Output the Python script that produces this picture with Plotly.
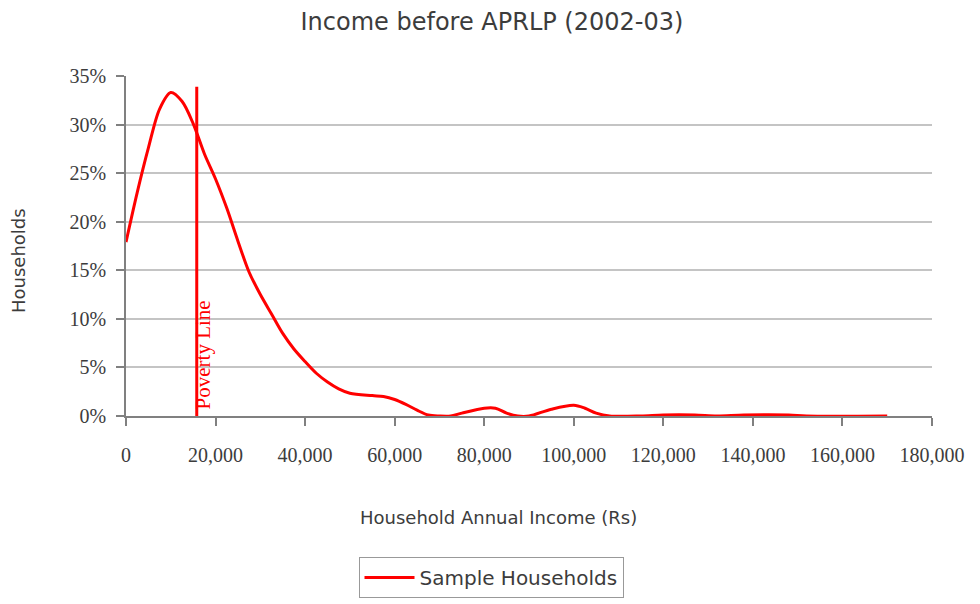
import plotly.graph_objects as go

# Household annual income (Rs) and share of households (%)
income = [0, 2500, 5000, 7500, 10000, 12500, 15000, 17500, 20000, 22500, 25000,
          27500, 30000, 32500, 35000, 37500, 40000, 42500, 45000, 47500, 50000,
          55000, 57500, 60000, 62500, 65000, 67500, 70000, 72500, 75000, 80000,
          82500, 85000, 87500, 90000, 95000, 100000, 102500, 105000, 108000,
          115000, 120000, 127000, 132000, 138000, 148000, 152000, 170000]
households = [17.9, 23.0, 27.6, 31.6, 33.3, 32.4, 30.1, 27.0, 24.4, 21.4, 18.0,
              14.8, 12.5, 10.5, 8.5, 6.9, 5.6, 4.4, 3.5, 2.8, 2.35,
              2.1, 2.0, 1.7, 1.2, 0.6, 0.1, 0.0, 0.0, 0.3, 0.8,
              0.8, 0.3, 0.0, 0.0, 0.7, 1.1, 0.8, 0.3, 0.0,
              0.0, 0.1, 0.1, 0.0, 0.1, 0.1, 0.0, 0.0]

poverty_line = 15800
poverty_line_span = [-1.0, 33.9]

x_ticks = [0, 20000, 40000, 60000, 80000, 100000, 120000, 140000, 160000, 180000]
x_tick_labels = ["0", "20,000", "40,000", "60,000", "80,000", "100,000",
                 "120,000", "140,000", "160,000", "180,000"]
y_ticks = [0, 5, 10, 15, 20, 25, 30, 35]
y_tick_labels = ["0%", "5%", "10%", "15%", "20%", "25%", "30%", "35%"]

sans = "DejaVu Sans"
serif = "Liberation Serif"
text_col = "#3c3c3c"

fig = go.Figure()
fig.add_trace(go.Scatter(
    x=income, y=households, mode="lines", name="Sample Households",
    line=dict(color="#ff0000", width=3, shape="spline", smoothing=0.9),
    hoverinfo="x+y",
))

fig.add_shape(type="line", xref="x", yref="y",
              x0=poverty_line, x1=poverty_line,
              y0=poverty_line_span[0], y1=poverty_line_span[1],
              line=dict(color="#ff0000", width=3), layer="above")
fig.add_annotation(x=poverty_line, y=0.5, xref="x", yref="y",
                   text="Poverty Line", textangle=-90, showarrow=False,
                   xanchor="left", yanchor="bottom", xshift=-8,
                   font=dict(family=serif, size=21, color="#ff0000"))

fig.add_annotation(text="Household Annual Income (Rs)", xref="paper", yref="paper",
                   x=(498 - 126) / 806, y=(416 - 517) / 340, showarrow=False,
                   xanchor="center", yanchor="middle",
                   font=dict(family=sans, size=18, color=text_col))
fig.add_annotation(text="Households", xref="paper", yref="paper",
                   x=(18 - 126) / 806, y=(416 - 261) / 340, showarrow=False,
                   textangle=-90, xanchor="center", yanchor="middle",
                   font=dict(family=sans, size=18, color=text_col))

fig.update_layout(
    width=980, height=604,
    paper_bgcolor="white", plot_bgcolor="white",
    margin=dict(l=126, r=48, t=76, b=188),
    title=dict(text="Income before APRLP (2002-03)", x=0.502, xanchor="center",
               y=1 - 22 / 604, yanchor="middle", xref="container", yref="container",
               font=dict(family=sans, size=24, color=text_col)),
    showlegend=True,
    legend=dict(orientation="h", xref="container", yref="container",
                x=491 / 980, xanchor="center", y=1 - 557 / 604, yanchor="top",
                bordercolor="#999999", borderwidth=1, bgcolor="white",
                font=dict(family=sans, size=20, color=text_col),
                itemwidth=50),
    xaxis=dict(range=[0, 180000], tickvals=x_ticks, ticktext=x_tick_labels,
               showgrid=False, zeroline=False, showline=True, linecolor="#808080",
               linewidth=1.5, ticks="outside", ticklen=8, tickcolor="#808080",
               tickwidth=1.5, ticklabelstandoff=12,
               tickfont=dict(family=serif, size=20, color=text_col)),
    yaxis=dict(range=[0, 35], tickvals=y_ticks, ticktext=y_tick_labels,
               showgrid=True, gridcolor="#c4c4c4", gridwidth=1.5,
               zeroline=False, showline=True, linecolor="#808080", linewidth=1.5,
               ticks="outside", ticklen=8, tickcolor="#808080", tickwidth=1.5,
               ticklabelstandoff=6,
               tickfont=dict(family=serif, size=20, color=text_col)),
)

fig.write_html("out.html", config={"displayModeBar": False},
               post_script="document.body.style.margin='0';document.body.style.overflow='hidden';")
